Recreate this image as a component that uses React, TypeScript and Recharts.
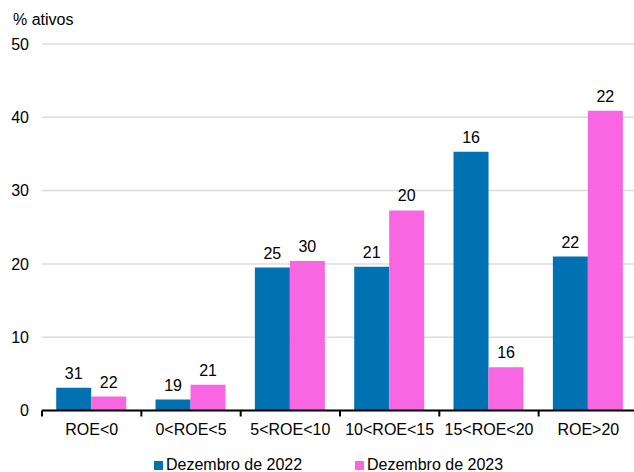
import React from "react";
import {
  BarChart,
  Bar,
  XAxis,
  YAxis,
  CartesianGrid,
  LabelList,
  Legend,
} from "recharts";

// ROE buckets and share of assets (%) per year; counts are the labels over the bars
const categories = ["ROE<0", "0<ROE<5", "5<ROE<10", "10<ROE<15", "15<ROE<20", "ROE>20"];
const dez2022 = [3.1, 1.5, 19.5, 19.6, 35.3, 21.0];
const dez2023 = [1.9, 3.5, 20.4, 27.3, 5.9, 40.9];
const count2022 = [31, 19, 25, 21, 16, 22];
const count2023 = [22, 21, 30, 20, 16, 22];
const yTicks = [0, 10, 20, 30, 40, 50];

const BLUE = "#0072B2";
const PINK = "#F966E1";
const FONT = "'Liberation Sans', Arial, sans-serif";

const data = categories.map((name, i) => ({
  name,
  d2022: dez2022[i],
  d2023: dez2023[i],
  n2022: count2022[i],
  n2023: count2023[i],
}));

const CategoryTick = (props: any) => {
  const { x, y, payload } = props;
  const half = payload?.offset ?? 49.67;
  return (
    <g>
      <line x1={x - half} x2={x - half} y1={y} y2={y + 6} stroke="#000" strokeWidth={2} />
      <text x={x} y={y + 24.5} textAnchor="middle" fontSize={16} fill="#000" fontFamily={FONT}>
        {payload.value}
      </text>
    </g>
  );
};

const LegendContent = () => (
  <div style={{ position: "relative", height: 31.5, width: 640, fontFamily: FONT, fontSize: 16, color: "#000" }}>
    {[
      { label: "Dezembro de 2022", color: BLUE, left: 154 },
      { label: "Dezembro de 2023", color: PINK, left: 355 },
    ].map((item) => (
      <div key={item.label} style={{ position: "absolute", left: item.left, top: 15.5, height: 18, display: "flex", alignItems: "center" }}>
        <span style={{ display: "inline-block", width: 9, height: 9, background: item.color, marginRight: 3 }} />
        <span style={{ lineHeight: "18px" }}>{item.label}</span>
      </div>
    ))}
  </div>
);

export default function App() {
  return (
    <div style={{ position: "absolute", left: 0, top: 0, width: 634, height: 472, overflow: "hidden", background: "#fff" }}>
      <div style={{ position: "absolute", left: 13, top: 11, fontFamily: FONT, fontSize: 16, color: "#000", lineHeight: "18px" }}>
        % ativos
      </div>
      <BarChart
        width={640}
        height={472}
        data={data}
        margin={{ top: 44, right: 2, left: 0, bottom: 0 }}
        barCategoryGap="14.3%"
        barGap={0}
      >
        <CartesianGrid vertical={false} stroke="#dcdcdc" strokeWidth={1.5} />
        <YAxis
          width={42}
          domain={[0, 50]}
          ticks={yTicks}
          axisLine={false}
          tickLine={false}
          tickSize={0}
          tickMargin={13}
          tick={{ fontSize: 16, fill: "#000", fontFamily: FONT }}
        />
        <XAxis
          dataKey="name"
          height={30}
          axisLine={{ stroke: "#000", strokeWidth: 2 }}
          tickLine={false}
          tickSize={0}
          tickMargin={0}
          interval={0}
          tick={<CategoryTick />}
        />
        <Legend verticalAlign="bottom" content={<LegendContent />} wrapperStyle={{ left: 0, width: 640 }} />
        <Bar dataKey="d2022" name="Dezembro de 2022" fill={BLUE} isAnimationActive={false}>
          <LabelList dataKey="n2022" position="top" offset={9} fill="#000" fontSize={16} fontFamily={FONT} />
        </Bar>
        <Bar dataKey="d2023" name="Dezembro de 2023" fill={PINK} isAnimationActive={false}>
          <LabelList dataKey="n2023" position="top" offset={9} fill="#000" fontSize={16} fontFamily={FONT} />
        </Bar>
      </BarChart>
    </div>
  );
}
